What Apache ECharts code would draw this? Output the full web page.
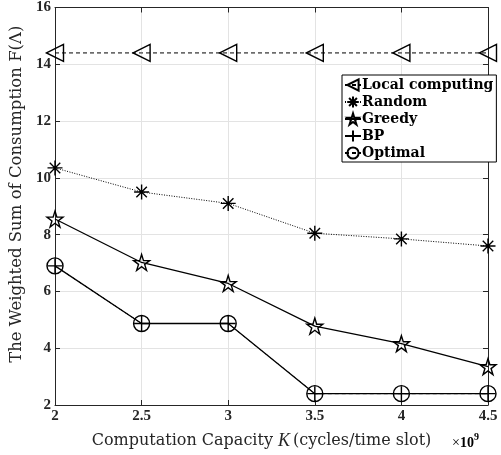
<!DOCTYPE html>
<html>
<head>
<meta charset="utf-8">
<script src="https://cdn.jsdelivr.net/npm/echarts@6/dist/echarts.min.js"></script>
<style>
  html, body { margin: 0; padding: 0; background: #fff; }
  #chart { width: 501px; height: 455px; }
</style>
</head>
<body>
<div id="chart"></div>
<script>
const capacity = [2, 2.5, 3, 3.5, 4, 4.5];
const localComputing = [14.4, 14.4, 14.4, 14.4, 14.4, 14.4];
const random = [10.35, 9.5, 9.1, 8.05, 7.85, 7.6];
const greedy = [8.55, 7.02, 6.28, 4.78, 4.16, 3.35];
const bp = [6.9, 4.87, 4.87, 2.4, 2.4, 2.4];
const optimal = [6.9, 4.87, 4.87, 2.4, 2.4, 2.4];

const serif = "Liberation Serif";
const wide = "DejaVu Serif";
const ink = "#000";
const axisInk = "#262626";

const triLeft = "path://M0,5L10,0L10,10Z";
const asterisk = "path://M5,0L5,10M0,5L10,5M1.5,1.5L8.5,8.5M1.5,8.5L8.5,1.5";
const star = "path://M5,0L6.18,3.62L10,3.62L6.91,5.86L8.09,9.47L5,7.24L1.91,9.47L3.09,5.86L0,3.62L3.82,3.62Z";
const plus = "path://M5,0L5,10M0,5L10,5";

const pairs = (ys) => capacity.map((x, i) => [x, ys[i]]);

const chart = echarts.init(document.getElementById("chart"));

const mark = (size) => ({
  symbolSize: size,
  itemStyle: { color: "rgba(0,0,0,0)", borderColor: ink, borderWidth: 1.4 }
});

const tickStyle = { show: true, inside: true, length: 5, lineStyle: { color: axisInk } };
const lineStyle = { show: true, lineStyle: { color: axisInk, width: 1 } };
const labelStyle = { fontFamily: serif, fontWeight: "bold", fontSize: 15, color: axisInk, margin: 4 };
const gridLine = { show: true, lineStyle: { color: "#e3e3e3", width: 1 } };

chart.setOption({
  animation: false,
  textStyle: { fontFamily: serif },
  grid: { left: 55, right: 13, top: 6, bottom: 50, show: false },
  legend: {
    orient: "vertical",
    left: 342,
    top: 75,
    backgroundColor: "#fff",
    borderColor: ink,
    borderWidth: 1,
    borderRadius: 0,
    padding: [3, 3, 2, 2],
    itemGap: 3,
    itemWidth: 16,
    itemHeight: 14,
    textStyle: { fontFamily: wide, fontWeight: "bold", fontSize: 14, color: ink, padding: [0, 0, 0, -4] },
    data: ["Local computing", "Random", "Greedy", "BP", "Optimal"]
  },
  xAxis: [
    {
      type: "value",
      min: 2,
      max: 4.5,
      interval: 0.5,
      name: "{b|Computation Capacity }{i|K}{b|(cycles/time slot)}",
      nameLocation: "middle",
      nameGap: 27,
      nameTextStyle: {
        padding: [0, 20, 0, 0],
        rich: {
          b: { fontFamily: wide, fontSize: 16, color: axisInk },
          i: { fontFamily: serif, fontStyle: "italic", fontSize: 18, color: axisInk, padding: [0, 3, 0, 0] }
        }
      },
      axisLine: lineStyle,
      axisTick: tickStyle,
      axisLabel: labelStyle,
      splitLine: gridLine
    },
    {
      type: "value",
      position: "top",
      min: 2,
      max: 4.5,
      interval: 0.5,
      axisLine: lineStyle,
      axisTick: tickStyle,
      axisLabel: { show: false },
      splitLine: { show: false }
    }
  ],
  yAxis: [
    {
      type: "value",
      min: 2,
      max: 16,
      interval: 2,
      name: "The Weighted Sum of Consumption F(Λ)",
      nameLocation: "middle",
      nameGap: 28,
      nameTextStyle: { fontFamily: wide, fontSize: 16.5, color: axisInk, padding: [0, 0, 0, 24] },
      axisLine: lineStyle,
      axisTick: tickStyle,
      axisLabel: labelStyle,
      splitLine: gridLine
    },
    {
      type: "value",
      position: "right",
      min: 2,
      max: 16,
      interval: 2,
      axisLine: lineStyle,
      axisTick: tickStyle,
      axisLabel: { show: false },
      splitLine: { show: false }
    }
  ],
  graphic: [
    {
      type: "text",
      left: 452,
      top: 432,
      style: {
        text: "{x|×}{t|10}{s|9}",
        rich: {
          x: { fontFamily: serif, fontSize: 14, color: axisInk, padding: [6, 0, 0, 0] },
          t: { fontFamily: serif, fontWeight: "bold", fontSize: 14, color: axisInk, padding: [6, 0, 0, 0] },
          s: { fontFamily: serif, fontWeight: "bold", fontSize: 10, color: axisInk, padding: [0, 0, 6, 0] }
        }
      }
    }
  ],
  series: [
    Object.assign({
      name: "Local computing",
      type: "line",
      data: pairs(localComputing),
      symbol: triLeft,
      clip: false,
      lineStyle: { color: ink, width: 1, type: [4, 3] }
    }, mark(17)),
    Object.assign({
      name: "Random",
      type: "line",
      data: pairs(random),
      symbol: asterisk,
      clip: false,
      lineStyle: { color: ink, width: 1, type: [1, 1.5] }
    }, mark(15)),
    Object.assign({
      name: "Greedy",
      type: "line",
      data: pairs(greedy),
      symbol: star,
      clip: false,
      lineStyle: { color: ink, width: 1.3 }
    }, mark(16)),
    Object.assign({
      name: "BP",
      type: "line",
      data: pairs(bp),
      symbol: plus,
      clip: false,
      lineStyle: { color: ink, width: 1.3 }
    }, mark(15)),
    Object.assign({
      name: "Optimal",
      type: "line",
      data: pairs(optimal),
      symbol: "circle",
      clip: false,
      lineStyle: { color: ink, width: 1, type: [4, 3] }
    }, mark(16))
  ]
});
</script>
</body>
</html>
